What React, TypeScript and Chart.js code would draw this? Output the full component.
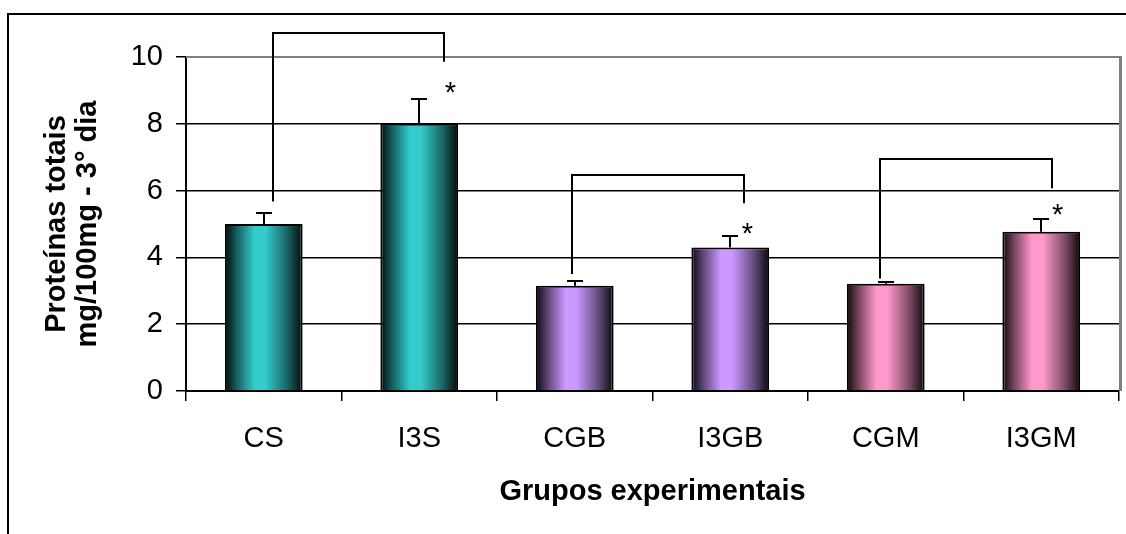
import React, { useEffect, useRef } from "react";
import { Chart, registerables } from "chart.js";

Chart.register(...registerables);

// ---- data ----
const categories = ["CS", "I3S", "CGB", "I3GB", "CGM", "I3GM"];
const means = [5.0, 8.0, 3.15, 4.3, 3.21, 4.77];
const errors = [0.32, 0.74, 0.13, 0.35, 0.05, 0.37];
const barColors = ["#33CCCC", "#33CCCC", "#CC99FF", "#CC99FF", "#FF99CC", "#FF99CC"];
const yMin = 0;
const yMax = 10;
const yStep = 2;
const xTitle = "Grupos experimentais";
const yTitleLines = ["Proteínas totais", "mg/100mg - 3° dia"];

// significance brackets (category indices and values in data units)
const bracketFrom = [0, 2, 4];
const bracketTo = [1, 3, 5];
const bracketTop = [10.72, 6.47, 6.94];
const bracketLeftEnd = [5.67, 3.5, 3.37];
const bracketRightEnd = [9.86, 5.62, 6.07];
const bracketLeftShift = [0.06, -0.02, -0.04];
const bracketRightShift = [0.16, 0.087, 0.066];

// asterisks
const starIndex = [1, 3, 5];
const starValue = [9.14, 4.91, 5.48];
const starShift = [0.2, 0.11, 0.105];

const FONT = "'Liberation Sans', Arial, sans-serif";

function hexToRgb(h: string) {
  const n = parseInt(h.slice(1), 16);
  return [(n >> 16) & 255, (n >> 8) & 255, n & 255];
}
function shade(h: string, f: number) {
  const [r, g, b] = hexToRgb(h);
  return `rgb(${Math.round(r * f)},${Math.round(g * f)},${Math.round(b * f)})`;
}

const overlay = {
  id: "overlay",
  beforeDraw(chart: any) {
    const ctx = chart.ctx;
    ctx.save();
    ctx.fillStyle = "#fff";
    ctx.fillRect(0, 0, chart.width, chart.height);
    ctx.strokeStyle = "#000";
    ctx.lineWidth = 2;
    ctx.strokeRect(8, 14, 1300, 700);
    ctx.restore();
  },
  afterDraw(chart: any) {
    const ctx = chart.ctx;
    const xs = chart.scales.x;
    const ys = chart.scales.y;
    const area = chart.chartArea;
    const cw = xs.width / categories.length;
    ctx.save();
    // plot area border (gray top & right)
    ctx.strokeStyle = "#808080";
    ctx.lineWidth = 2;
    ctx.beginPath();
    ctx.moveTo(area.left, area.top);
    ctx.lineTo(area.right, area.top);
    ctx.stroke();
    ctx.lineWidth = 3;
    ctx.beginPath();
    ctx.moveTo(area.right + 1.5, area.top - 1);
    ctx.lineTo(area.right + 1.5, area.bottom);
    ctx.stroke();

    // error bars
    ctx.strokeStyle = "#000";
    ctx.lineWidth = 2;
    for (let i = 0; i < means.length; i++) {
      const x = Math.round(xs.getPixelForValue(i));
      const y0 = ys.getPixelForValue(means[i]);
      const y1 = Math.round(ys.getPixelForValue(means[i] + errors[i]));
      ctx.beginPath();
      ctx.moveTo(x, y0);
      ctx.lineTo(x, y1);
      ctx.moveTo(x - 8, y1);
      ctx.lineTo(x + 8, y1);
      ctx.stroke();
    }

    // brackets
    ctx.lineWidth = 2;
    for (let k = 0; k < bracketFrom.length; k++) {
      const xl = Math.round(xs.getPixelForValue(bracketFrom[k]) + bracketLeftShift[k] * cw);
      const xr = Math.round(xs.getPixelForValue(bracketTo[k]) + bracketRightShift[k] * cw);
      const yt = Math.round(ys.getPixelForValue(bracketTop[k]));
      ctx.beginPath();
      ctx.moveTo(xl, ys.getPixelForValue(bracketLeftEnd[k]));
      ctx.lineTo(xl, yt);
      ctx.lineTo(xr, yt);
      ctx.lineTo(xr, ys.getPixelForValue(bracketRightEnd[k]));
      ctx.stroke();
    }

    // asterisks
    ctx.fillStyle = "#000";
    ctx.font = `29px ${FONT}`;
    ctx.textAlign = "center";
    ctx.textBaseline = "alphabetic";
    for (let k = 0; k < starIndex.length; k++) {
      const x = xs.getPixelForValue(starIndex[k]) + starShift[k] * cw;
      const y = ys.getPixelForValue(starValue[k]);
      ctx.fillText("*", x, y + 16);
    }

    // axis titles
    ctx.font = `bold 29px ${FONT}`;
    ctx.textAlign = "center";
    ctx.fillText(xTitle, (area.left + area.right) / 2, 500);
    const cy = (area.top + area.bottom) / 2;
    const baseX = [65, 96];
    for (let l = 0; l < yTitleLines.length; l++) {
      ctx.save();
      ctx.translate(baseX[l], cy);
      ctx.rotate(-Math.PI / 2);
      ctx.fillText(yTitleLines[l], 0, 0);
      ctx.restore();
    }
    ctx.restore();
  },
};

export default function App() {
  const ref = useRef<HTMLCanvasElement | null>(null);
  useEffect(() => {
    if (!ref.current) return;
    const chart = new Chart(ref.current, {
      type: "bar",
      data: {
        labels: categories,
        datasets: [
          {
            data: means,
            backgroundColor: (c: any) => {
              const ch = c.chart;
              const i = c.dataIndex;
              if (!ch.chartArea || i === undefined || !ch.scales.x) return barColors[0];
              const xs = ch.scales.x;
              const cx = xs.getPixelForValue(i);
              const w = (xs.width / categories.length) * 0.5;
              const g = ch.ctx.createLinearGradient(cx - w / 2, 0, cx + w / 2, 0);
              const base = barColors[i];
              g.addColorStop(0, shade(base, 0.05));
              g.addColorStop(0.15, shade(base, 0.45));
              g.addColorStop(0.38, shade(base, 1));
              g.addColorStop(0.52, shade(base, 1));
              g.addColorStop(0.8, shade(base, 0.5));
              g.addColorStop(1, shade(base, 0.05));
              return g;
            },
            borderColor: "#000",
            borderWidth: 2,
            barPercentage: 0.5,
            categoryPercentage: 1,
          } as any,
        ],
      },
      options: {
        animation: false,
        responsive: false,
        layout: { padding: { left: 0, right: 7, top: 57, bottom: 0 } },
        plugins: { legend: { display: false }, tooltip: { enabled: false } },
        scales: {
          x: {
            grid: {
              display: true,
              drawOnChartArea: false,
              drawTicks: true,
              tickLength: 10,
              offset: true,
              color: "#000",
              lineWidth: 1.5,
            },
            border: { display: true, color: "#000", width: 2 },
            ticks: { color: "#000", font: { family: FONT, size: 29 }, padding: 21 },
            afterFit: (s: any) => {
              s.height = 143;
            },
          },
          y: {
            min: yMin,
            max: yMax,
            ticks: { stepSize: yStep, color: "#000", font: { family: FONT, size: 29 }, padding: 13 },
            grid: {
              color: (c: any) => (c.tick && c.tick.value === yMax ? "#808080" : "#000"),
              tickColor: "#000",
              lineWidth: 1.5,
              tickLength: 10,
            },
            border: { display: true, color: "#000", width: 2 },
            afterFit: (s: any) => {
              s.width = 186;
            },
          },
        },
      },
      plugins: [overlay],
    });
    return () => chart.destroy();
  }, []);
  return (
    <div style={{ position: "fixed", left: 0, top: 0, width: 1126, height: 534 }}>
      <canvas ref={ref} width={1126} height={534} style={{ display: "block" }} />
    </div>
  );
}
